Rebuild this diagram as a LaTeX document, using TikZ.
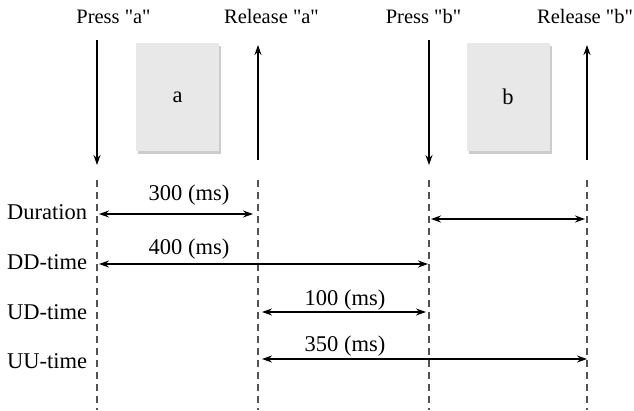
\documentclass[tikz,border=0pt]{standalone}
\usepackage{fontspec}
\setmainfont{Liberation Serif}[Ligatures=TeXOff]
\usetikzlibrary{arrows.meta}
\begin{document}
\begin{tikzpicture}[x=1pt,y=-1pt,
  lbl/.style={font=\fontsize{22.5}{26}\selectfont, inner sep=0pt, text=black, anchor=base},
  toplbl/.style={font=\fontsize{20.5}{24}\selectfont, inner sep=0pt, text=black, anchor=base},
  evarrow/.style={line width=1.5pt, -{Stealth[length=10pt,width=7pt]}},
  spanarrow/.style={line width=1.5pt, {Stealth[length=10pt,width=7pt]}-{Stealth[length=10pt,width=7pt]}},
  guide/.style={line width=1.4pt, dash pattern=on 7pt off 5pt, black!68},
  keycap/.style={fill=black!9, minimum width=83pt, minimum height=108pt, inner sep=0pt, font=\fontsize{22.5}{26}\selectfont},
  keyshadow/.style={fill=black!20, minimum width=83pt, minimum height=108pt, inner sep=0pt},
]
\useasboundingbox (0,0) rectangle (634,410);

% top labels
\node[toplbl] (pa) at (113.5,23) {Press "a"};
\node[toplbl] (ra) at (271.5,23) {Release "a"};
\node[toplbl] (pb) at (423.5,23) {Press "b"};
\node[toplbl] (rb) at (585,23) {Release "b"};

% key caps
\node[keyshadow] (kas) at (179.5,100) {};
\node[keycap] (ka) at (177.5,97) {a};
\node[keyshadow] (kbs) at (510,100) {};
\node[keycap] (kb) at (508,97) {b};

% event arrows
\coordinate (pat) at (97,40);  \coordinate (pab) at (97,165);
\coordinate (rat) at (258,45); \coordinate (rab) at (258,160);
\coordinate (pbt) at (429,40); \coordinate (pbb) at (429,165);
\coordinate (rbt) at (587,45); \coordinate (rbb) at (587,160);
\draw[evarrow] (pat) -- (pab);
\draw[evarrow] (rab) -- (rat);
\draw[evarrow] (pbt) -- (pbb);
\draw[evarrow] (rbb) -- (rbt);

% dashed guides
\coordinate (g1t) at (97,180);  \coordinate (g1b) at (97,410);
\coordinate (g2t) at (258,180); \coordinate (g2b) at (258,410);
\coordinate (g3t) at (429,180); \coordinate (g3b) at (429,410);
\coordinate (g4t) at (587,180); \coordinate (g4b) at (587,410);
\draw[guide] (g1t) -- (g1b);
\draw[guide] (g2t) -- (g2b);
\draw[guide] (g3t) -- (g3b);
\draw[guide] (g4t) -- (g4b);

% row labels
\node[lbl, anchor=base west] (dur) at (7,219) {Duration};
\node[lbl, anchor=base west] (dd) at (7,269) {DD-time};
\node[lbl, anchor=base west] (ud) at (7,319) {UD-time};
\node[lbl, anchor=base west] (uu) at (7,368) {UU-time};

% span coordinates
\coordinate (d1) at (99,214);  \coordinate (d2) at (253,214);
\coordinate (d3) at (431,219); \coordinate (d4) at (585,219);
\coordinate (e1) at (99,264);  \coordinate (e2) at (428,264);
\coordinate (u1) at (262,312); \coordinate (u2) at (426,312);
\coordinate (v1) at (262,359); \coordinate (v2) at (587,359);
\draw[spanarrow] (d1) -- (d2);
\draw[spanarrow] (d3) -- (d4);
\draw[spanarrow] (e1) -- (e2);
\draw[spanarrow] (u1) -- (u2);
\draw[spanarrow] (v1) -- (v2);

% span labels
\node[lbl] (t300) at (189,200) {300 (ms)};
\node[lbl] (t400) at (189,254) {400 (ms)};
\node[lbl] (t100) at (345,305) {100 (ms)};
\node[lbl] (t350) at (345,351) {350 (ms)};
\end{tikzpicture}
\end{document}
